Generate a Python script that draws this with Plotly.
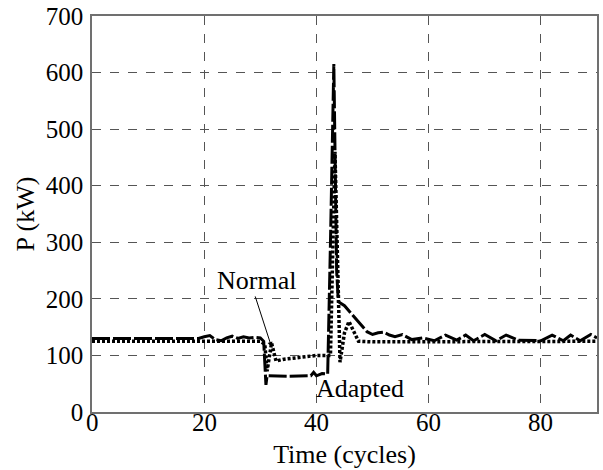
import plotly.graph_objects as go

# Adapted (dashed) series
t_adapted = [0, 19, 20, 21, 22, 23, 24, 25, 26, 27, 28, 29, 30, 30.6, 31, 31.2, 35, 39, 39.5, 40, 41, 42,
             42.5, 43.1, 43.6, 43.9, 45, 46, 47, 48, 49, 50, 51, 52, 53, 54, 55.3, 57, 59, 61, 63, 65,
             66.6, 68, 70, 72, 73.8, 76, 78, 80, 82, 84, 85.3, 87, 88.9, 90]
p_adapted = [130, 130, 133, 135, 128, 126, 131, 134, 130, 133, 131, 132, 131, 125, 48, 64, 63, 64, 70, 64, 68, 67,
             300, 615, 250, 195, 188, 176, 165, 152, 142, 137, 140, 141, 136, 133, 137, 128, 131, 126, 136, 127,
             136, 126, 137, 126, 136, 127, 127, 126, 136, 126, 136, 126, 137, 131]

# Normal (dotted) series
t_normal = [0, 30, 30.8, 31.2, 32, 32.8, 34, 37, 40, 42.5, 43.3, 44.2, 45, 45.8, 46.5, 47.5, 50, 90]
p_normal = [125, 125, 120, 72, 122, 90, 93, 97, 100, 100, 460, 88, 140, 160, 145, 125, 124, 125]

x_ticks = [0, 20, 40, 60, 80]
x_tick_labels = ["0", "20", "40", "60", "80"]
y_ticks = [0, 100, 200, 300, 400, 500, 600, 700]

FONT = "Liberation Serif"
FS = 25
FT = 26

fig = go.Figure()
fig.add_trace(go.Scatter(x=t_normal, y=p_normal, mode="lines", name="Normal",
                         line=dict(color="black", width=3.5, dash="3px,2px")))
fig.add_trace(go.Scatter(x=t_adapted, y=p_adapted, mode="lines", name="Adapted",
                         line=dict(color="black", width=3, dash="18px,3px")))

fig.add_annotation(x=32, y=115, ax=29.0, ay=207, axref="x", ayref="y", xref="x", yref="y",
                   text="", showarrow=True, arrowhead=2, arrowsize=1, arrowwidth=1, arrowcolor="black")
fig.add_annotation(x=29.4, y=233, xref="x", yref="y", text="Normal", showarrow=False,
                   font=dict(family=FONT, size=FT, color="black"))
fig.add_annotation(x=47.8, y=42, xref="x", yref="y", text="Adapted", showarrow=False,
                   font=dict(family=FONT, size=FT, color="black"))

# x tick labels placed tight under the axis
for xv, lab in zip(x_ticks, x_tick_labels):
    fig.add_annotation(x=xv, y=0, xref="x", yref="paper", text=lab, showarrow=False,
                       yanchor="top", yshift=5,
                       font=dict(family=FONT, size=FS, color="black"))

axis_common = dict(showline=True, mirror=True, linecolor="#707070", linewidth=1.5,
                   showgrid=True, gridcolor="#555555", gridwidth=1, griddash="dash",
                   zeroline=False, ticks="", automargin=False,
                   tickfont=dict(family=FONT, size=FS, color="black"))

fig.update_xaxes(range=[0, 90], tickvals=x_ticks, showticklabels=False,
                 title=dict(text="Time (cycles)", standoff=32,
                            font=dict(family=FONT, size=FT, color="black")), **axis_common)
fig.update_yaxes(range=[0, 700], tickvals=y_ticks, ticklabelstandoff=2,
                 title=dict(text="P (kW)", standoff=4,
                            font=dict(family=FONT, size=FT, color="black")), **axis_common)

fig.update_layout(width=603, height=470, showlegend=False,
                  plot_bgcolor="white", paper_bgcolor="white",
                  margin=dict(l=92, r=6, t=16, b=58),
                  font=dict(family=FONT, size=FS, color="black"))

fig.write_html("out.html", config={"displayModeBar": False},
               post_script="document.body.style.margin='0';document.body.style.overflow='hidden';")
